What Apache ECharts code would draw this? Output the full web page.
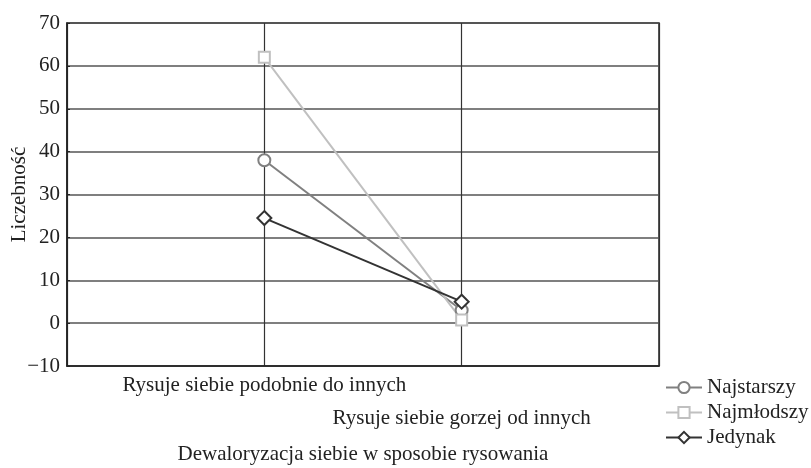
<!DOCTYPE html>
<html>
<head>
<meta charset="utf-8">
<script src="https://cdn.jsdelivr.net/npm/echarts@6/dist/echarts.min.js"></script>
<style>
  html, body { margin: 0; padding: 0; background: #fff; }
  #chart { width: 811px; height: 468px; }
</style>
</head>
<body>
<div id="chart"></div>
<script>
// dane
const categories = ['Rysuje siebie podobnie do innych', 'Rysuje siebie gorzej od innych']
const najstarszy = [38, 3]
const najmlodszy = [62, 0.7]
const jedynak = [24.5, 5]
const yTicks = { min: -10, max: 70, step: 10 }

const FONT = 'Liberation Serif'
const FS = 21

// puste kategorie po bokach, zeby punkty staly na 1/3 i 2/3 szerokosci
const pad = arr => [null, ...arr, null]
const xData = ['', ...categories, '']

const chart = echarts.init(document.getElementById('chart'))

const line = (name, data, color, symbol, size) => ({
    name,
    type: 'line',
    data: pad(data),
    symbol,
    symbolSize: size,
    lineStyle: { color, width: 2 },
    itemStyle: { color: '#fff', borderColor: color, borderWidth: 2 },
    emphasis: { disabled: true },
    z: 3
})

chart.setOption({
    animation: false,
    textStyle: { fontFamily: FONT },
    grid: {
        left: 67, right: 152, top: 23, bottom: 102,
        outerBoundsMode: 'none',
        containLabel: false,
        show: true, borderColor: '#222', borderWidth: 1.5
    },
    legend: {
        orient: 'vertical',
        left: 660, top: 372,
        itemWidth: 36, itemHeight: 14, itemGap: 4,
        textStyle: { fontFamily: FONT, fontSize: FS, color: '#222' },
        data: ['Najstarszy', 'Najmłodszy', 'Jedynak']
    },
    xAxis: {
        type: 'category',
        data: xData,
        boundaryGap: false,
        name: 'Dewaloryzacja siebie w sposobie rysowania',
        nameLocation: 'middle',
        nameGap: 78,
        nameMoveOverlap: false,
        nameTextStyle: { fontFamily: FONT, fontSize: FS, color: '#222' },
        axisLine: { onZero: false, lineStyle: { color: '#222', width: 1.5 } },
        axisTick: { show: false },
        axisLabel: {
            interval: 0,
            margin: 3,
            fontFamily: FONT, fontSize: FS, color: '#222',
            lineHeight: 33,
            formatter: (v, i) => (i === 2 ? '\n' + v : v)
        },
        splitLine: { show: true, lineStyle: { color: '#333', width: 1.2 } }
    },
    yAxis: {
        type: 'value',
        min: yTicks.min, max: yTicks.max, interval: yTicks.step,
        name: 'Liczebność',
        nameLocation: 'middle',
        nameGap: 37,
        nameMoveOverlap: false,
        nameTextStyle: { fontFamily: FONT, fontSize: FS, color: '#222' },
        axisLine: { show: true, lineStyle: { color: '#222', width: 1.5 } },
        axisTick: { show: true, inside: true, length: 3, lineStyle: { color: '#222' } },
        axisLabel: {
            margin: 7,
            fontFamily: FONT, fontSize: FS, color: '#222',
            formatter: v => String(v).replace('-', '\u2212')
        },
        splitLine: { show: true, lineStyle: { color: '#555', width: 1.5 } }
    },
    series: [
        line('Najstarszy', najstarszy, '#808080', 'circle', 12),
        line('Najmłodszy', najmlodszy, '#c0c0c0', 'rect', 11),
        line('Jedynak', jedynak, '#333333', 'diamond', 14)
    ]
})
</script>
</body>
</html>
